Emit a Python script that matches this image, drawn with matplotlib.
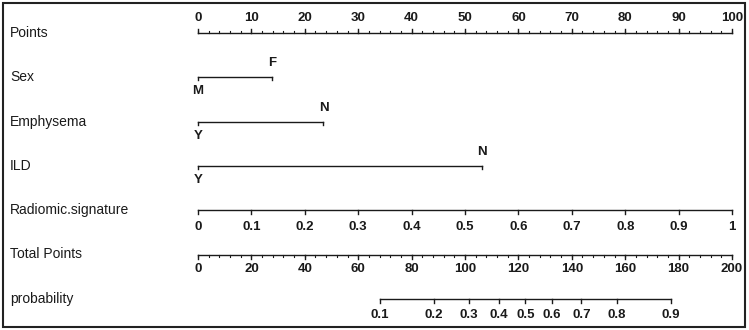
"""Nomogram: sex, emphysema, ILD and radiomic signature -> probability."""
import numpy as np
import matplotlib
matplotlib.use("Agg")
import matplotlib.pyplot as plt
from matplotlib.patches import Rectangle

plt.rcParams["font.family"] = ["Liberation Sans", "DejaVu Sans"]

# ---- data ----
row_labels = ["Points", "Sex", "Emphysema", "ILD", "Radiomic.signature",
              "Total Points", "probability"]
points_ticks = np.arange(0, 101, 10)
sex_levels = ["M", "F"]
sex_points = [0, 13.9]
emph_levels = ["Y", "N"]
emph_points = [0, 23.5]
ild_levels = ["Y", "N"]
ild_points = [0, 53.1]
radiomic_ticks = [0, 0.1, 0.2, 0.3, 0.4, 0.5, 0.6, 0.7, 0.8, 0.9, 1]
radiomic_points = [0, 10, 20, 30, 40, 50, 60, 70, 80, 90, 100]
total_ticks = np.arange(0, 201, 20)
prob_ticks = [0.1, 0.2, 0.3, 0.4, 0.5, 0.6, 0.7, 0.8, 0.9]
prob_total_points = [68.2, 88.3, 101.6, 112.6, 122.6, 132.6, 143.6, 156.9, 177.0]

W, H, DPI = 749, 330, 100
XS = 5.34          # pixels per point
X0 = 198           # pixel of 0 points
Y0, DY = 33, 44.3  # pixel of first row, row spacing
PX = 1 / DY        # one pixel in row units
LW = 1.0
C = "#1a1a1a"

fig = plt.figure(figsize=(W / DPI, H / DPI), dpi=DPI)
ax = fig.add_axes([0, 0, 1, 1])
ax.set_xlim(-X0 / XS, (W - X0) / XS)
ax.set_ylim((H - Y0) / DY, -Y0 / DY)
ax.axis("off")

lab_kw = dict(fontsize=10, color=C, va="center", ha="left")
tick_kw = dict(fontsize=9.5, color=C, fontweight="bold", ha="center", va="center")

for i, name in enumerate(row_labels):
    ax.text((10 - X0) / XS, i, name, **lab_kw)


def scale(ax, row, pos, labels, minor=None, up=False, off=16):
    s = -1 if up else 1
    ax.plot([pos[0], pos[-1]], [row, row], color=C, lw=LW)
    for p, l in zip(pos, labels):
        ax.plot([p, p], [row, row + s * 4 * PX], color=C, lw=LW)
        ax.text(p, row + s * off * PX, l, **tick_kw)
    if minor is not None:
        for p in minor:
            ax.plot([p, p], [row, row + s * 2 * PX], color=C, lw=0.8)


def category(ax, row, pos, labels):
    ax.plot([pos[0], pos[-1]], [row, row], color=C, lw=LW)
    for k, (p, l) in enumerate(zip(pos, labels)):
        ax.plot([p, p], [row, row + 3 * PX], color=C, lw=LW)
        off = 14 if k % 2 == 0 else -14
        ax.text(p, row + off * PX, l, **tick_kw)


scale(ax, 0, points_ticks, [f"{t:g}" for t in points_ticks],
      minor=np.arange(0, 101, 2), up=True, off=15)
category(ax, 1, sex_points, sex_levels)
category(ax, 2, emph_points, emph_levels)
category(ax, 3, ild_points, ild_levels)
scale(ax, 4, radiomic_points, [f"{t:g}" for t in radiomic_ticks], off=17)
scale(ax, 5, total_ticks / 2, [f"{t:g}" for t in total_ticks],
      minor=np.arange(0, 201, 4) / 2, off=15)
scale(ax, 6, np.array(prob_total_points) / 2, [f"{t:g}" for t in prob_ticks], off=16)

fig.add_artist(Rectangle((3 / W, 3 / H), 742 / W, 324 / H, transform=fig.transFigure,
                         fill=False, lw=1.5, edgecolor="#222222"))
fig.savefig("out.png", dpi=DPI)
